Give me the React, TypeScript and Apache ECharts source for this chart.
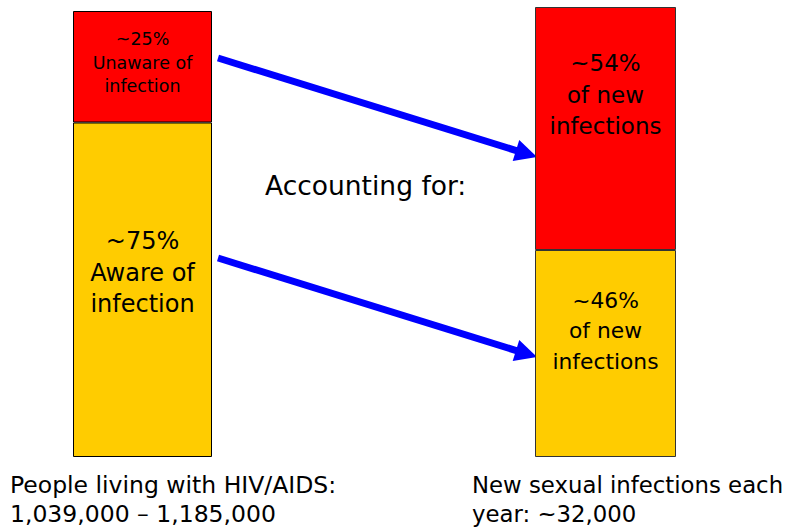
import React, { useEffect, useRef } from "react";
import * as echarts from "echarts";

const categories = ["People living with HIV/AIDS", "New sexual infections"];
const unawareShare = [25, 54];
const awareShare = [75, 46];
const unawareLabels = ["~25%\nUnaware of\ninfection", "~54%\nof new\ninfections"];
const awareLabels = ["~75%\nAware of\ninfection", "~46%\nof new\ninfections"];
const bottomCaptions = [
  "People living with HIV/AIDS:\n1,039,000 – 1,185,000",
  "New sexual infections each\nyear: ~32,000",
];
const middleText = "Accounting for:";

const FONT = "DejaVu Sans";
const RED = "#FF0000";
const YELLOW = "#FFCC00";
const BLUE = "#0000FF";

function arrow(x1: number, y1: number, x2: number, y2: number) {
  const dx = x2 - x1;
  const dy = y2 - y1;
  const len = Math.sqrt(dx * dx + dy * dy);
  const ux = dx / len;
  const uy = dy / len;
  const px = -uy;
  const py = ux;
  const headLen = 22;
  const headHalf = 11;
  const bx = x2 - ux * headLen;
  const by = y2 - uy * headLen;
  return [
    {
      type: "line",
      shape: { x1, y1, x2: bx + ux * 2, y2: by + uy * 2 },
      style: { stroke: BLUE, lineWidth: 7 },
    },
    {
      type: "polygon",
      shape: {
        points: [
          [x2, y2],
          [bx + px * headHalf, by + py * headHalf],
          [bx - px * headHalf, by - py * headHalf],
        ],
      },
      style: { fill: BLUE },
    },
  ];
}

export default function App() {
  const ref = useRef<HTMLDivElement>(null);
  useEffect(() => {
    if (!ref.current) return;
    const chart = echarts.init(ref.current, null, { renderer: "svg" });
    const grids = [
      { left: 73, width: 139, top: 11, bottom: 71 },
      { left: 535, width: 141, top: 7, bottom: 71 },
    ];
    const redLabelStyle = [
      { fontSize: 17.5, lineHeight: 23.5, offset: [0, -4] },
      { fontSize: 23, lineHeight: 31.5, offset: [0, -34] },
    ];
    const yellowLabelStyle = [
      { fontSize: 24, lineHeight: 31.5, offset: [0, -17] },
      { fontSize: 21.8, lineHeight: 30.5, offset: [0, -23] },
    ];
    const borderColors = ["#000", "#333"];
    const series: any[] = [];
    categories.forEach((c, i) => {
      series.push({
        type: "bar",
        name: "aware-" + i,
        xAxisIndex: i,
        yAxisIndex: i,
        stack: "s" + i,
        barWidth: "100%",
        data: [
          {
            value: awareShare[i],
            itemStyle: { color: YELLOW, borderColor: borderColors[i], borderWidth: 1 },
            label: {
              show: true,
              position: "inside",
              formatter: awareLabels[i],
              color: "#000",
              fontFamily: FONT,
              align: "center",
              ...yellowLabelStyle[i],
            },
          },
        ],
      });
      series.push({
        type: "bar",
        name: "unaware-" + i,
        xAxisIndex: i,
        yAxisIndex: i,
        stack: "s" + i,
        barWidth: "100%",
        data: [
          {
            value: unawareShare[i],
            itemStyle: { color: RED, borderColor: borderColors[i], borderWidth: 1 },
            label: {
              show: true,
              position: "inside",
              formatter: unawareLabels[i],
              color: "#000",
              fontFamily: FONT,
              align: "center",
              ...redLabelStyle[i],
            },
          },
        ],
      });
    });
    chart.setOption({
      animation: false,
      backgroundColor: "#fff",
      grid: grids,
      xAxis: categories.map((c, i) => ({
        type: "category",
        gridIndex: i,
        data: [c],
        show: false,
      })),
      yAxis: categories.map((c, i) => ({
        type: "value",
        gridIndex: i,
        min: 0,
        max: 100,
        show: false,
      })),
      series,
      graphic: [
        ...arrow(218, 58, 537, 157),
        ...arrow(218, 258, 537, 357),
        {
          type: "text",
          x: 265,
          y: 185,
          style: {
            text: middleText,
            fontSize: 26.5,
            fontFamily: FONT,
            fill: "#000",
            verticalAlign: "middle",
          },
        },
        {
          type: "text",
          x: 10,
          y: 470,
          style: {
            text: bottomCaptions[0],
            fontSize: 23.5,
            lineHeight: 29,
            fontFamily: FONT,
            fill: "#000",
          },
        },
        {
          type: "text",
          x: 472,
          y: 470,
          style: {
            text: bottomCaptions[1],
            fontSize: 22.8,
            lineHeight: 29,
            fontFamily: FONT,
            fill: "#000",
          },
        },
      ],
    });
    return () => chart.dispose();
  }, []);
  return <div ref={ref} style={{ width: 788, height: 528, position: "absolute", left: 0, top: 0 }} />;
}
